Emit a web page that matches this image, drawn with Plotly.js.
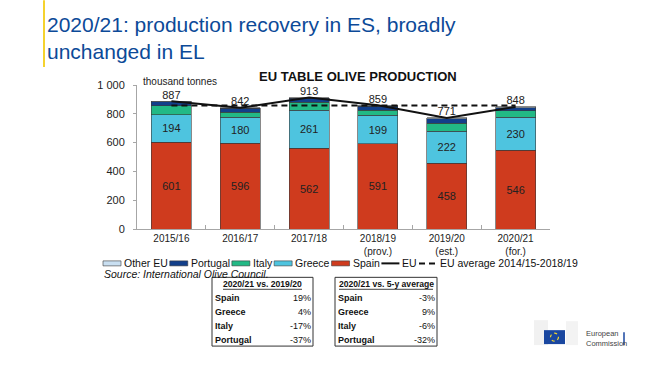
<!DOCTYPE html>
<html>
<head>
<meta charset="utf-8">
<script src="https://cdn.plot.ly/plotly-3.0.1.min.js"></script>
<style>html,body{margin:0;padding:0;background:#fff;}#chart{width:649px;height:365px;}</style>
</head>
<body>
<div id="chart"></div>
<script>
// ---- data ----
const seasons = ['2015/16', '2016/17', '2017/18', '2018/19<br>(prov.)', '2019/20<br>(est.)', '2020/21<br>(for.)'];
const spain    = [601, 596, 562, 591, 458, 546];
const greece   = [194, 180, 261, 199, 222, 230];
const italy    = [62, 36, 57, 35, 55, 46];
const portugal = [25, 25, 28, 28, 30, 19];
const otherEU  = [5, 5, 5, 6, 6, 7];
const euTotal  = [887, 842, 913, 859, 771, 848];
const euAverage = 857; // EU average 2014/15-2018/19
const euAvgLine = seasons.map(() => euAverage);
const yTicks = [0, 200, 400, 600, 800, 1000];

const legendLabels = ['Other EU', 'Portugal', 'Italy', 'Greece', 'Spain', 'EU', 'EU average 2014/15-2018/19'];
const tableCountries = ['Spain', 'Greece', 'Italy', 'Portugal'];
const vsPrevYear = ['19%', '4%', '-17%', '-37%'];
const vs5yAvg = ['-3%', '9%', '-6%', '-32%'];

// ---- styles ----
const C = {spain:'#CF3B1E', greece:'#4EC4DF', italy:'#22B985', portugal:'#123F8A', other:'#C9DFF1'};
const FONT = 'Arial, "Liberation Sans", sans-serif';
const L = 137, R = 550, T = 85, B = 229.5;
const px = x => (x - L) / (R - L);
const py = y => (B - y) / (B - T);
const outline = {color:'#3a3a3a', width:0.6};

function barTrace(name, vals, color, labelled) {
  return {
    type:'bar', name:name, x:seasons, y:vals,
    marker:{color:color, line:outline},
    text: labelled ? vals.map(String) : undefined,
    textposition: labelled ? 'inside' : 'none',
    insidetextanchor:'middle', textangle:0,
    textfont:{family:FONT, size:11, color:'#222'},
    hoverinfo:'y+name', showlegend:false
  };
}

const traces = [
  barTrace('Spain', spain, C.spain, true),
  barTrace('Greece', greece, C.greece, true),
  barTrace('Italy', italy, C.italy, false),
  barTrace('Portugal', portugal, C.portugal, false),
  barTrace('Other EU', otherEU, C.other, false),
  {type:'scatter', mode:'lines', name:'EU average 2014/15-2018/19', x:seasons, y:euAvgLine,
   line:{color:'#111', width:2, dash:'6px,4px'}, showlegend:false, hoverinfo:'y'},
  {type:'scatter', mode:'lines+text', name:'EU', x:seasons, y:euTotal,
   text:euTotal.map(String), textposition:'top center',
   textfont:{family:FONT, size:11, color:'#222'},
   line:{color:'#111', width:2}, showlegend:false, hoverinfo:'y'}
];

const shapes = [];
const annotations = [];

// yellow accent bar
shapes.push({type:'line', xref:'paper', yref:'paper', x0:px(44), x1:px(44), y0:py(0), y1:py(67),
  line:{color:'#F5D22E', width:2}});

// chart subtitle & unit
annotations.push({xref:'paper', yref:'paper', x:px(358), y:py(76), xanchor:'center', yanchor:'middle',
  text:'<b>EU TABLE OLIVE PRODUCTION</b>', showarrow:false, font:{family:FONT, size:13, color:'#111'}});
annotations.push({xref:'paper', yref:'paper', x:px(141), y:py(81), xanchor:'left', yanchor:'middle',
  text:'thousand tonnes', showarrow:false, font:{family:FONT, size:10, color:'#222'}});

// manual legend (laid out from measured text widths)
const LEG_SIZE = 10.5;
const ctx = document.createElement('canvas').getContext('2d');
ctx.font = LEG_SIZE + 'px Arial, "Liberation Sans", sans-serif';
const legKinds = [C.other, C.portugal, C.italy, C.greece, C.spain, 'line', 'dash'];
const LY = 264;
let cx = 103;
legendLabels.forEach((t, i) => {
  const k = legKinds[i];
  if (k === 'line' || k === 'dash') {
    shapes.push({type:'line', xref:'paper', yref:'paper', x0:px(cx), x1:px(cx + 18), y0:py(LY), y1:py(LY),
      line:{color:'#111', width:2, dash: k === 'dash' ? '6px,4px' : 'solid'}});
  } else {
    shapes.push({type:'rect', xref:'paper', yref:'paper', x0:px(cx), x1:px(cx + 18),
      y0:py(LY + 2.5), y1:py(LY - 2.5), fillcolor:k, line:{color:'#3a3a3a', width:0.6}});
  }
  annotations.push({xref:'paper', yref:'paper', x:px(cx + 20), y:py(LY), xanchor:'left', yanchor:'middle',
    text:t, showarrow:false, borderpad:0, font:{family:FONT, size:LEG_SIZE, color:'#111'}});
  cx += 20 + ctx.measureText(t).width + 3;
});

// source
annotations.push({xref:'paper', yref:'paper', x:px(103), y:py(275), xanchor:'left', yanchor:'middle',
  text:'<i>Source: International Olive Council.</i>', showarrow:false, borderpad:0, font:{family:FONT, size:10.5, color:'#111'}});

// tables
const TF = 8.6;
function table(x0, x1, header, values) {
  shapes.push({type:'rect', xref:'paper', yref:'paper', x0:px(x0), x1:px(x1), y0:py(347), y1:py(278),
    line:{color:'#333', width:1}, fillcolor:'rgba(0,0,0,0)'});
  annotations.push({xref:'paper', yref:'paper', x:px((x0 + x1) / 2), y:py(284.5), xanchor:'center', yanchor:'middle',
    text:'<b>' + header + '</b>', showarrow:false, borderpad:0, font:{family:FONT, size:TF, color:'#111'}});
  const rowY = [299, 313, 327, 340.5];
  tableCountries.forEach((c, i) => {
    annotations.push({xref:'paper', yref:'paper', x:px(x0 + 2), y:py(rowY[i]), xanchor:'left', yanchor:'middle',
      text:'<b>' + c + '</b>', showarrow:false, borderpad:0, font:{family:FONT, size:TF + 0.4, color:'#111'}});
    annotations.push({xref:'paper', yref:'paper', x:px(x1 - 1), y:py(rowY[i]), xanchor:'right', yanchor:'middle',
      text:values[i], showarrow:false, borderpad:0, font:{family:FONT, size:TF + 0.4, color:'#111'}});
  });
}
table(212, 313, '2020/21 vs. 2019/20', vsPrevYear);
table(335, 437, '2020/21 vs. 5-y average', vs5yAvg);
// header underlines
shapes.push({type:'line', xref:'paper', yref:'paper', x0:px(223), x1:px(302), y0:py(290), y1:py(290), line:{color:'#111', width:0.8}});
shapes.push({type:'line', xref:'paper', yref:'paper', x0:px(339), x1:px(433), y0:py(290), y1:py(290), line:{color:'#111', width:0.8}});

// European Commission logo
shapes.push({type:'rect', xref:'paper', yref:'paper', x0:px(534), x1:px(548), y0:py(346), y1:py(321), fillcolor:'#f1f1f1', line:{width:0}});
shapes.push({type:'rect', xref:'paper', yref:'paper', x0:px(566), x1:px(578), y0:py(346), y1:py(322), fillcolor:'#f3f3f3', line:{width:0}});
shapes.push({type:'rect', xref:'paper', yref:'paper', x0:px(544), x1:px(565), y0:py(345), y1:py(331), fillcolor:'#1A47A0', line:{width:0}});
shapes.push({type:'circle', xref:'paper', yref:'paper', x0:px(550.5), x1:px(558.5), y0:py(342), y1:py(334), line:{color:'#F2D530', width:1.2, dash:'dot'}});
shapes.push({type:'line', xref:'paper', yref:'paper', x0:px(624), x1:px(624), y0:py(333), y1:py(346), line:{color:'#1A47A0', width:1.5}});
annotations.push({xref:'paper', yref:'paper', x:px(584), y:py(339.5), xanchor:'left', yanchor:'middle',
  text:'European<br>Commission', align:'left', showarrow:false, font:{family:FONT, size:7.5, color:'#444'}});

const layout = {
  width:649, height:365,
  margin:{l:L, r:649 - R, t:T, b:365 - B, pad:0},
  paper_bgcolor:'#fff', plot_bgcolor:'#fff',
  font:{family:FONT, size:10, color:'#222'},
  separators:'. ',
  title:{text:'2020/21: production recovery in ES, broadly<br>unchanged in EL',
    x:47 / 649, xref:'container', xanchor:'left', y:1 - 32 / 365, yref:'container', yanchor:'top',
    font:{family:FONT, size:21, color:'#0C4A98'}},
  barmode:'stack', bargap:0.42,
  showlegend:false,
  xaxis:{type:'category', showline:true, linecolor:'#a6a6a6', linewidth:1, ticks:'inside', tickson:'boundaries',
    ticklen:4, tickcolor:'#a6a6a6', showgrid:false, zeroline:false, ticklabelstandoff:0,
    tickfont:{family:FONT, size:10, color:'#222'}},
  yaxis:{range:[0, 1000], tickvals:yTicks, tickformat:',d', showline:true, linecolor:'#a6a6a6', linewidth:1,
    ticks:'outside', ticklen:3, tickcolor:'#a6a6a6', showgrid:false, zeroline:false,
    tickfont:{family:FONT, size:11, color:'#222'}, ticklabelstandoff:6},
  shapes:shapes, annotations:annotations,
  uniformtext:{mode:false}
};

Plotly.newPlot('chart', traces, layout, {displayModeBar:false, staticPlot:true});
</script>
</body>
</html>
